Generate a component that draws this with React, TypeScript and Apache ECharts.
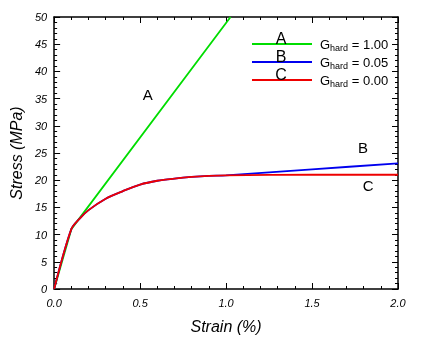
import React, { useEffect, useRef } from "react";
import * as echarts from "echarts";

const strainA = [0, 0.1, 1.026];
const stressA = [0, 11, 50];
const strainB = [0, 0.1, 0.15, 0.2, 0.3, 0.4, 0.5, 0.6, 0.7, 0.8, 0.9, 1.0, 1.5, 2.0];
const stressB = [0, 11, 13.0, 14.5, 16.6, 18.0, 19.2, 19.9, 20.3, 20.6, 20.8, 20.9, 22.0, 23.1];
const strainC = [0, 0.1, 0.15, 0.2, 0.3, 0.4, 0.5, 0.6, 0.7, 0.8, 0.9, 1.0, 1.5, 2.0];
const stressC = [0, 11, 13.0, 14.5, 16.6, 18.0, 19.2, 19.9, 20.3, 20.6, 20.8, 20.9, 21.0, 21.0];
const curveNames = ["A", "B", "C"];
const curveColors = ["#00dd00", "#0000ee", "#ee0000"];
const gValues = ["1.00", "0.05", "0.00"];
const labelX = [0.545, 1.797, 1.826];
const labelY = [35.7, 26.1, 19.1];

const FONT = "'Liberation Sans', Arial, Helvetica, sans-serif";

export default function App() {
  const ref = useRef<HTMLDivElement>(null);
  useEffect(() => {
    const chart = echarts.init(ref.current!, null, { renderer: "svg" });
    const zip = (xs: number[], ys: number[]) => xs.map((x, i) => [x, ys[i]]);
    const datas = [zip(strainA, stressA), zip(strainB, stressB), zip(strainC, stressC)];
    const axisCommon = {
      axisLine: { show: true, onZero: false, lineStyle: { color: "#000", width: 1.5 } },
      axisTick: { show: true, inside: true, length: 6, lineStyle: { color: "#000" } },
      minorTick: { show: true, splitNumber: 5, length: 3, lineStyle: { color: "#000" } },
      splitLine: { show: false },
    };
    const legendGraphics: any[] = [];
    curveNames.forEach((n, i) => {
      const y = 44 + i * 18;
      legendGraphics.push({
        type: "line",
        shape: { x1: 252, y1: y, x2: 312, y2: y },
        style: { stroke: curveColors[i], lineWidth: 2 },
      });
      legendGraphics.push({
        type: "text",
        x: 281,
        y: y + 2,
        style: {
          text: n,
          font: `16px ${FONT}`,
          fill: "#000",
          align: "center",
          verticalAlign: "bottom",
        },
      });
      legendGraphics.push({
        type: "text",
        x: 320,
        y: y,
        style: {
          text: `{g|G}{s|hard}{g| = ${gValues[i]}}`,
          verticalAlign: "middle",
          rich: {
            g: { font: `13px ${FONT}`, fill: "#000" },
            s: { font: `9px ${FONT}`, fill: "#000", padding: [8, 0, 0, 0] },
          },
        },
      });
    });
    chart.setOption({
      animation: false,
      grid: { left: 53, top: 17, width: 345, height: 272 },
      xAxis: [
        {
          type: "value",
          min: 0,
          max: 2,
          interval: 0.5,
          name: "Strain (%)",
          nameLocation: "middle",
          nameGap: 29,
          nameTextStyle: { fontFamily: FONT, fontStyle: "italic", fontSize: 16, color: "#000" },
          axisLabel: {
            fontFamily: FONT,
            fontStyle: "italic",
            fontSize: 11,
            color: "#000",
            margin: 8,
            formatter: (v: number) => v.toFixed(1),
          },
          ...axisCommon,
        },
        {
          type: "value",
          position: "top",
          min: 0,
          max: 2,
          interval: 0.5,
          axisLabel: { show: false },
          ...axisCommon,
        },
      ],
      yAxis: [
        {
          type: "value",
          min: 0,
          max: 50,
          interval: 5,
          name: "Stress (MPa)",
          nameLocation: "middle",
          nameGap: 27,
          nameTextStyle: { fontFamily: FONT, fontStyle: "italic", fontSize: 16, color: "#000" },
          axisLabel: { fontFamily: FONT, fontStyle: "italic", fontSize: 11, color: "#000", margin: 7 },
          ...axisCommon,
        },
        {
          type: "value",
          position: "right",
          min: 0,
          max: 50,
          interval: 5,
          axisLabel: { show: false },
          ...axisCommon,
        },
      ],
      series: [
        ...curveNames.map((n, i) => ({
          name: n,
          type: "line",
          data: datas[i],
          showSymbol: false,
          smooth: i > 0 ? 0.3 : false,
          lineStyle: { color: curveColors[i], width: 1.8 },
          z: 2 + i,
        })),
        {
          type: "scatter",
          symbolSize: 1,
          itemStyle: { color: "rgba(0,0,0,0)" },
          data: curveNames.map((n, i) => ({ name: n, value: [labelX[i], labelY[i]] })),
          label: {
            show: true,
            position: "inside",
            formatter: (p: any) => p.name,
            fontFamily: FONT,
            fontSize: 15,
            color: "#000",
            textBorderWidth: 0,
            opacity: 1,
          },
          z: 10,
        },
      ],
      graphic: legendGraphics,
    });
    return () => chart.dispose();
  }, []);
  return <div ref={ref} style={{ position: "fixed", left: 0, top: 0, width: 423, height: 339 }} />;
}
